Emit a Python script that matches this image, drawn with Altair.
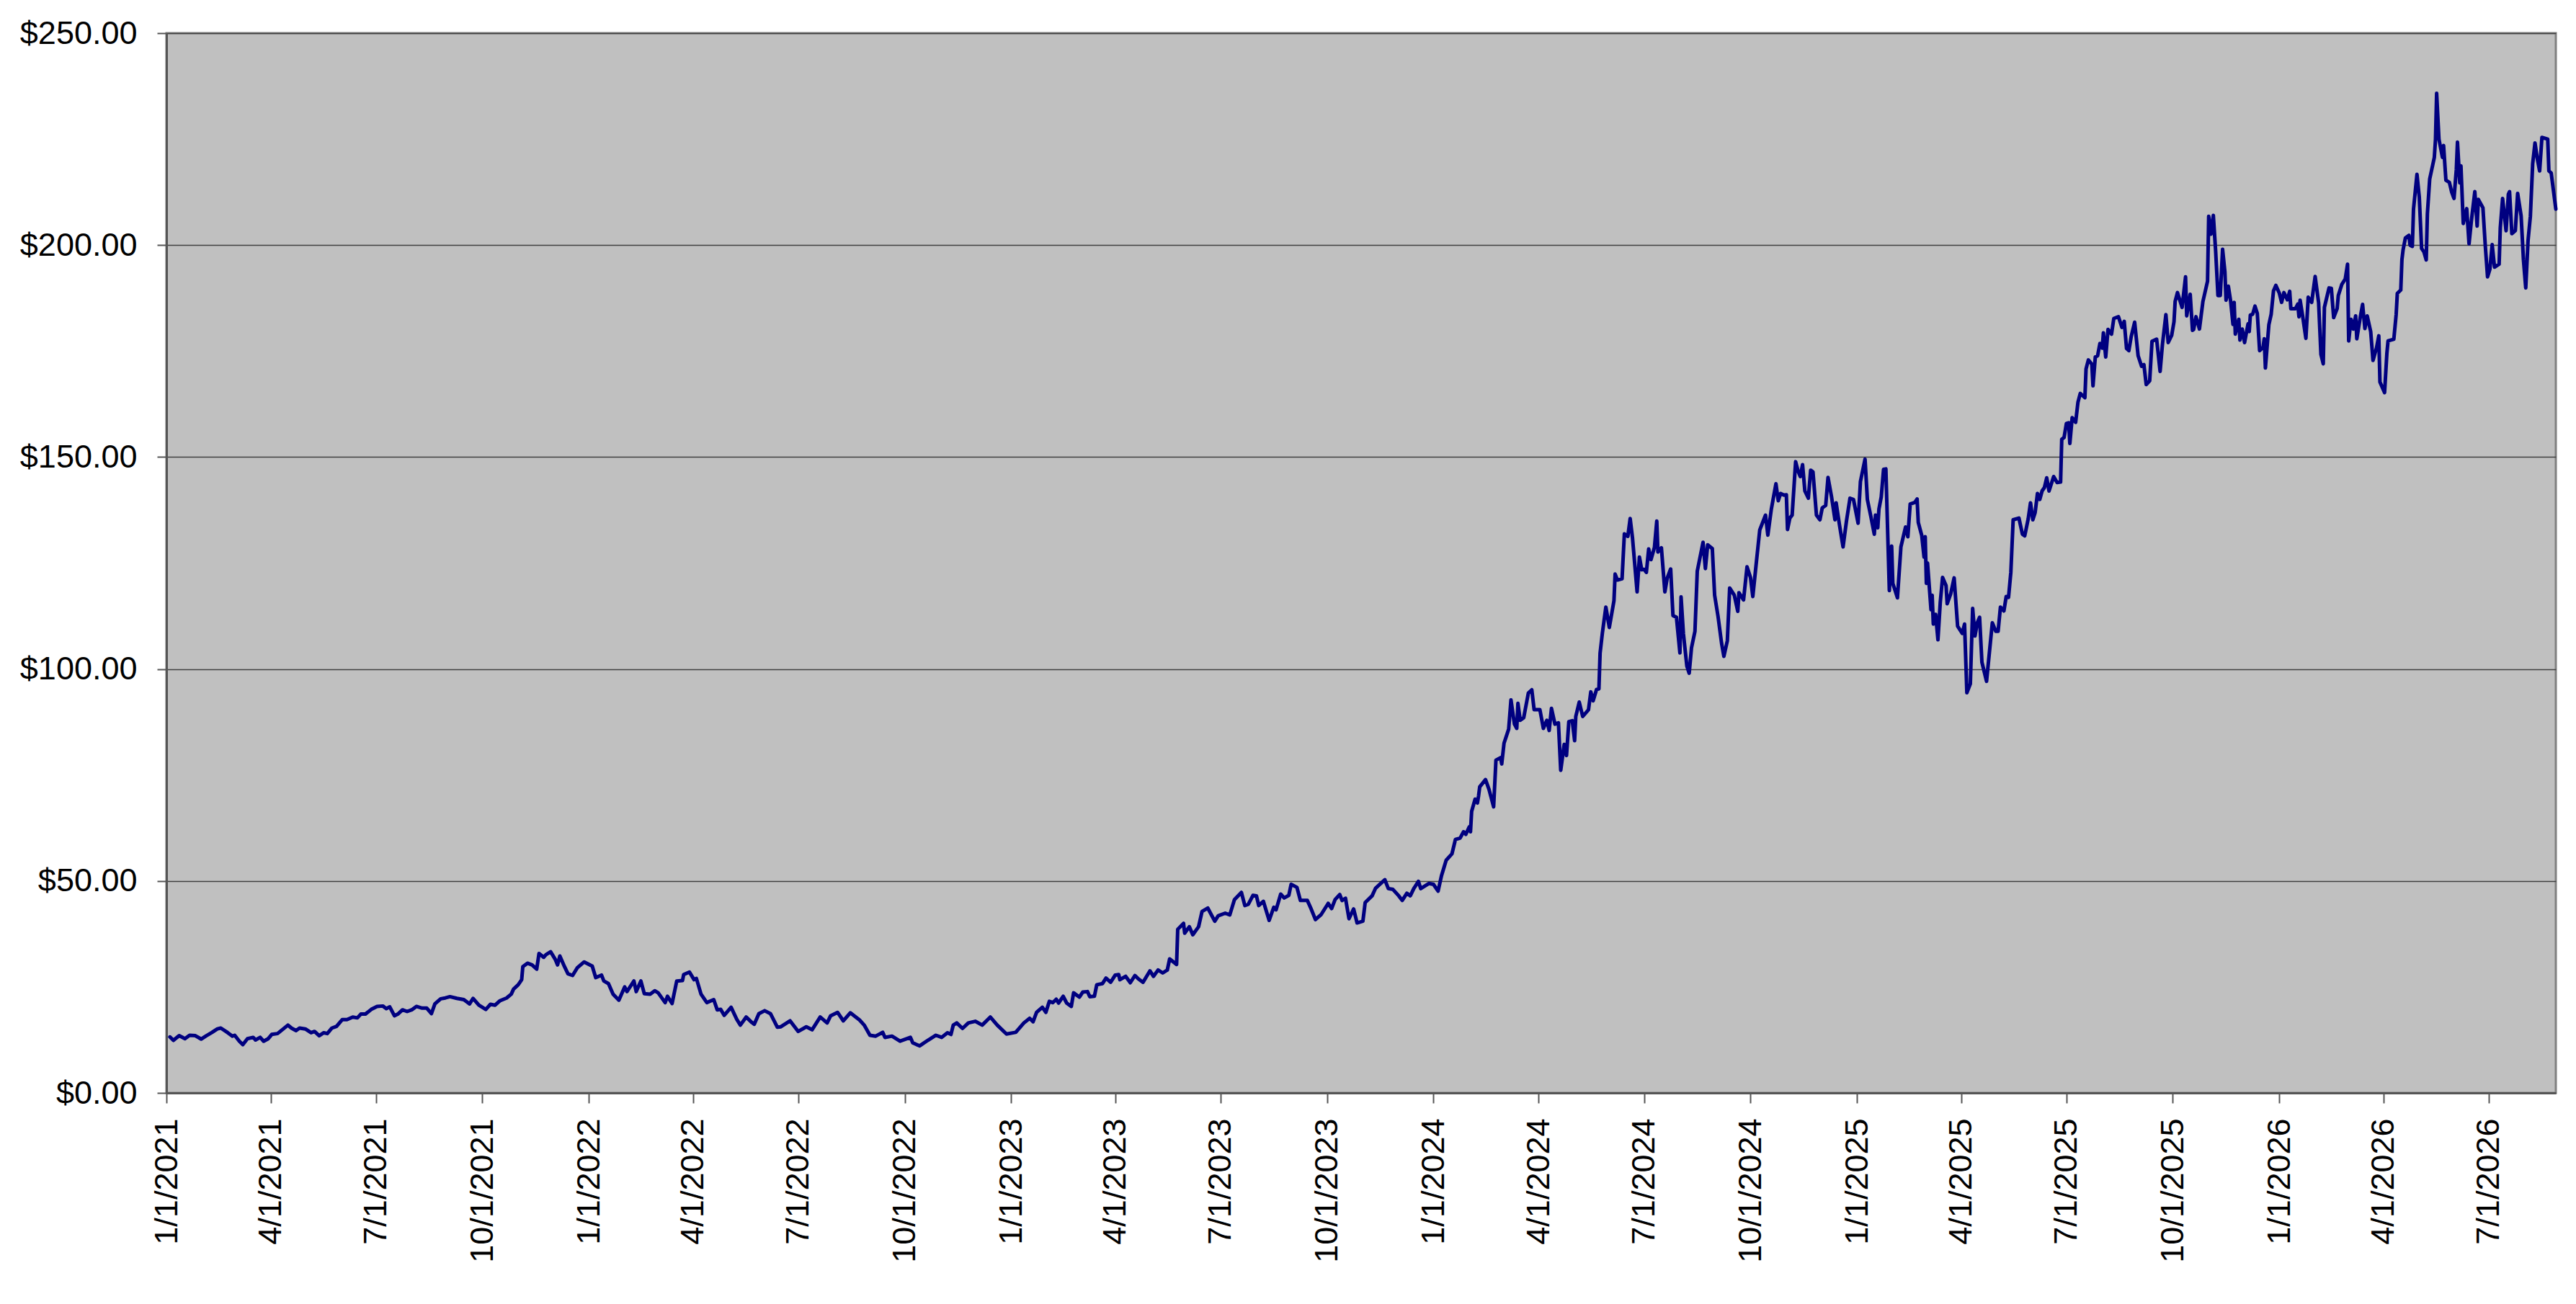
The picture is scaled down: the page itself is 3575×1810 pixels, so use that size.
import altair as alt
import pandas as pd

# ---- price readings (month-day, closing price) per year ----
points_2021 = [
    ("01-04", 13.2), ("01-07", 12.4), ("01-12", 13.5), ("01-17", 12.8), ("01-21", 13.6),
    ("01-26", 13.5), ("01-31", 12.7), ("02-04", 13.4), ("02-09", 14.2), ("02-14", 15.1),
    ("02-17", 15.3), ("02-23", 14.2), ("02-27", 13.4), ("03-01", 13.6), ("03-05", 12.2),
    ("03-08", 11.4), ("03-12", 12.8), ("03-17", 13.1), ("03-19", 12.5), ("03-23", 13.1),
    ("03-26", 12.2), ("03-30", 12.8), ("04-02", 13.8), ("04-07", 14.0), ("04-12", 15.1),
    ("04-16", 16.0), ("04-19", 15.3), ("04-23", 14.7), ("04-26", 15.3), ("05-01", 15.1),
    ("05-06", 14.2), ("05-09", 14.5), ("05-13", 13.5), ("05-17", 14.2), ("05-20", 14.0),
    ("05-24", 15.3), ("05-28", 15.7), ("06-02", 17.3), ("06-06", 17.3), ("06-11", 17.9),
    ("06-15", 17.7), ("06-18", 18.6), ("06-22", 18.6), ("06-27", 19.7), ("07-02", 20.4),
    ("07-07", 20.5), ("07-10", 19.9), ("07-13", 20.3), ("07-17", 18.2), ("07-20", 18.6),
    ("07-24", 19.6), ("07-28", 19.2), ("08-01", 19.6), ("08-05", 20.4), ("08-10", 20.0),
    ("08-14", 20.0), ("08-18", 18.7), ("08-21", 21.0), ("08-26", 22.2), ("08-30", 22.4),
    ("09-03", 22.7), ("09-09", 22.3), ("09-15", 22.0), ("09-20", 21.0), ("09-23", 22.3),
    ("09-28", 20.7), ("10-04", 19.7), ("10-08", 20.9), ("10-12", 20.7), ("10-16", 21.7),
    ("10-22", 22.4), ("10-26", 23.3), ("10-28", 24.5), ("11-01", 25.5), ("11-04", 26.7),
    ("11-05", 29.8), ("11-09", 30.6), ("11-13", 30.2), ("11-17", 29.2), ("11-19", 32.9),
    ("11-23", 32.0), ("11-25", 32.6), ("11-29", 33.3), ("12-03", 31.5), ("12-05", 30.2),
    ("12-07", 32.3), ("12-11", 29.8), ("12-14", 28.1), ("12-18", 27.7), ("12-22", 29.5),
    ("12-28", 30.9),
]

points_2022 = [
    ("01-04", 29.9), ("01-07", 27.2), ("01-12", 27.8), ("01-14", 26.4), ("01-18", 25.8),
    ("01-22", 23.3), ("01-27", 21.9), ("02-01", 25.0), ("02-03", 23.9), ("02-09", 26.4),
    ("02-11", 23.9), ("02-15", 26.4), ("02-18", 23.4), ("02-23", 23.3), ("02-27", 24.1),
    ("03-02", 23.6), ("03-08", 21.3), ("03-10", 22.8), ("03-14", 21.1), ("03-18", 26.4),
    ("03-23", 26.5), ("03-24", 27.9), ("03-29", 28.5), ("04-02", 26.7), ("04-04", 27.0),
    ("04-08", 23.3), ("04-13", 21.3), ("04-19", 22.0), ("04-22", 19.6), ("04-25", 19.7),
    ("04-28", 18.3), ("05-04", 20.2), ("05-09", 17.3), ("05-12", 16.0), ("05-17", 17.9),
    ("05-22", 16.6), ("05-24", 16.2), ("05-28", 18.7), ("06-02", 19.4), ("06-07", 18.7),
    ("06-13", 15.5), ("06-16", 15.6), ("06-24", 17.0), ("07-01", 14.5), ("07-08", 15.6),
    ("07-13", 14.9), ("07-20", 17.9), ("07-26", 16.5), ("07-29", 18.2), ("08-04", 19.0),
    ("08-09", 17.0), ("08-15", 18.9), ("08-23", 17.2), ("08-27", 16.0), ("09-01", 13.6),
    ("09-06", 13.4), ("09-12", 14.3), ("09-14", 13.1), ("09-20", 13.4), ("09-27", 12.2),
    ("10-06", 13.1), ("10-08", 11.8), ("10-14", 11.1), ("10-21", 12.4), ("10-28", 13.6),
    ("11-02", 13.1), ("11-07", 14.2), ("11-10", 13.8), ("11-12", 16.0), ("11-15", 16.5),
    ("11-20", 15.2), ("11-25", 16.5), ("12-01", 16.9), ("12-07", 16.0), ("12-14", 17.9),
    ("12-20", 16.0), ("12-28", 13.9),
]

points_2023 = [
    ("01-05", 14.3), ("01-12", 16.5), ("01-17", 17.6), ("01-20", 16.8), ("01-23", 19.0),
    ("01-28", 20.2), ("01-31", 19.0), ("02-03", 21.6), ("02-06", 21.3), ("02-09", 22.1),
    ("02-11", 21.2), ("02-15", 22.8), ("02-18", 21.2), ("02-22", 20.4), ("02-24", 23.6),
    ("03-01", 22.6), ("03-04", 23.8), ("03-08", 23.9), ("03-10", 22.7), ("03-14", 22.8),
    ("03-16", 25.5), ("03-21", 25.8), ("03-24", 27.1), ("03-28", 26.1), ("04-01", 27.8),
    ("04-04", 27.9), ("04-05", 26.7), ("04-10", 27.5), ("04-14", 26.0), ("04-18", 27.7),
    ("04-21", 26.9), ("04-25", 26.1), ("05-01", 28.8), ("05-04", 27.5), ("05-08", 29.0),
    ("05-12", 28.3), ("05-16", 29.0), ("05-18", 31.6), ("05-24", 30.3), ("05-25", 38.6),
    ("05-30", 40.0), ("05-31", 37.7), ("06-04", 39.2), ("06-07", 37.3), ("06-12", 39.2),
    ("06-15", 42.8), ("06-20", 43.6), ("06-26", 40.5), ("06-29", 41.8), ("07-05", 42.4),
    ("07-09", 42.0), ("07-13", 45.6), ("07-19", 47.3), ("07-22", 44.2), ("07-25", 44.5),
    ("07-29", 46.6), ("08-01", 46.5), ("08-03", 44.2), ("08-07", 45.2), ("08-12", 40.7),
    ("08-16", 43.8), ("08-18", 43.2), ("08-22", 46.9), ("08-25", 46.0), ("08-29", 46.6),
    ("08-31", 49.2), ("09-05", 48.5), ("09-08", 45.4), ("09-14", 45.4), ("09-17", 43.6),
    ("09-21", 40.9), ("09-26", 42.1), ("10-02", 44.7), ("10-05", 43.5), ("10-08", 45.6),
    ("10-12", 46.8), ("10-14", 45.4), ("10-17", 45.9), ("10-20", 41.1), ("10-24", 43.4),
    ("10-27", 40.1), ("11-01", 40.5), ("11-03", 44.9), ("11-09", 46.5), ("11-12", 48.3),
    ("11-16", 49.3), ("11-20", 50.3), ("11-23", 48.2), ("11-27", 48.0), ("12-02", 46.5),
    ("12-05", 45.4), ("12-09", 47.1), ("12-12", 46.5), ("12-15", 48.2), ("12-19", 49.9),
    ("12-21", 48.2), ("12-28", 49.4),
]

points_2024 = [
    ("01-01", 49.2), ("01-05", 47.6), ("01-08", 51.3), ("01-12", 54.9), ("01-17", 56.4),
    ("01-20", 59.8), ("01-24", 60.1), ("01-27", 61.6), ("01-29", 61.0), ("02-01", 62.8),
    ("02-02", 61.6), ("02-03", 66.4), ("02-06", 69.3), ("02-08", 68.4), ("02-09", 70.1),
    ("02-10", 72.2), ("02-15", 73.9), ("02-18", 71.6), ("02-22", 67.5), ("02-24", 78.5),
    ("02-28", 79.1), ("02-29", 77.6), ("03-02", 82.5), ("03-06", 85.8), ("03-08", 92.7),
    ("03-11", 87.0), ("03-13", 86.0), ("03-14", 91.9), ("03-16", 87.9), ("03-19", 88.5),
    ("03-23", 94.3), ("03-26", 95.1), ("03-28", 90.4), ("04-02", 90.4), ("04-05", 86.0),
    ("04-08", 87.9), ("04-10", 85.5), ("04-12", 90.7), ("04-15", 87.0), ("04-18", 87.3),
    ("04-20", 76.1), ("04-23", 82.2), ("04-25", 79.6), ("04-27", 87.6), ("04-30", 87.8),
    ("05-02", 83.1), ("05-03", 88.8), ("05-06", 92.2), ("05-09", 88.8), ("05-14", 90.4),
    ("05-16", 94.6), ("05-18", 92.5), ("05-21", 95.2), ("05-23", 95.3), ("05-24", 103.7),
    ("05-26", 108.5), ("05-29", 114.6), ("06-01", 109.8), ("06-05", 116.1), ("06-06", 122.4),
    ("06-08", 121.0), ("06-12", 121.3), ("06-14", 131.9), ("06-17", 131.3), ("06-19", 135.5),
    ("06-21", 131.0), ("06-25", 118.2), ("06-27", 126.4), ("06-29", 123.4), ("07-01", 123.5),
    ("07-03", 122.8), ("07-05", 128.3), ("07-07", 125.8), ("07-10", 128.7), ("07-12", 134.9),
    ("07-13", 127.6), ("07-16", 128.6), ("07-19", 118.2), ("07-21", 121.4), ("07-24", 123.6),
    ("07-26", 112.6), ("07-29", 112.2), ("08-01", 103.8), ("08-02", 117.0), ("08-04", 108.4),
    ("08-07", 100.7), ("08-09", 99.0), ("08-11", 105.0), ("08-14", 108.9), ("08-16", 123.1),
    ("08-21", 129.9), ("08-23", 123.7), ("08-25", 129.3), ("08-29", 128.4), ("08-31", 117.4),
    ("09-03", 112.3), ("09-06", 106.1), ("09-08", 103.0), ("09-11", 106.7), ("09-13", 119.1),
    ("09-17", 117.4), ("09-20", 113.6), ("09-21", 118.0), ("09-25", 116.3), ("09-28", 124.1),
    ("10-01", 121.6), ("10-03", 117.1), ("10-06", 125.0), ("10-09", 132.8), ("10-12", 134.9),
    ("10-14", 136.3), ("10-16", 131.6), ("10-19", 137.7), ("10-23", 143.7), ("10-25", 139.7),
    ("10-27", 141.4), ("10-30", 141.0), ("11-01", 141.1), ("11-02", 132.9), ("11-04", 135.6),
    ("11-06", 136.3), ("11-09", 148.9), ("11-11", 146.8), ("11-13", 145.4), ("11-15", 148.2),
    ("11-17", 142.0), ("11-20", 140.3), ("11-22", 146.9), ("11-24", 146.5), ("11-27", 136.3),
    ("11-30", 135.2), ("12-02", 138.0), ("12-05", 138.6), ("12-07", 145.2), ("12-10", 140.7),
    ("12-13", 135.2), ("12-14", 139.2), ("12-17", 133.8), ("12-20", 128.8), ("12-23", 135.0),
    ("12-26", 140.3), ("12-29", 140.0),
]

points_2025 = [
    ("01-02", 134.4), ("01-04", 144.2), ("01-08", 149.5), ("01-10", 140.0), ("01-13", 136.0),
    ("01-16", 131.8), ("01-17", 136.3), ("01-19", 133.3), ("01-20", 137.7), ("01-22", 140.6),
    ("01-24", 147.1), ("01-26", 147.2), ("01-29", 118.5), ("01-31", 129.0), ("02-01", 120.2),
    ("02-05", 116.8), ("02-08", 128.8), ("02-12", 133.5), ("02-14", 131.2), ("02-16", 138.9),
    ("02-20", 139.3), ("02-22", 140.1), ("02-23", 134.6), ("02-26", 131.5), ("02-28", 126.4),
    ("03-01", 131.2), ("03-02", 120.2), ("03-03", 125.0), ("03-06", 114.0), ("03-07", 117.4),
    ("03-08", 110.6), ("03-10", 112.9), ("03-12", 106.9), ("03-14", 115.7), ("03-16", 121.6),
    ("03-19", 119.7), ("03-20", 115.4), ("03-23", 117.7), ("03-26", 121.5), ("03-29", 110.1),
    ("04-02", 108.4), ("04-04", 110.6), ("04-06", 94.4), ("04-09", 96.5), ("04-11", 114.3),
    ("04-13", 107.8), ("04-15", 110.9), ("04-17", 112.2), ("04-19", 101.6), ("04-23", 97.1),
    ("04-28", 110.9), ("05-01", 108.9), ("05-03", 108.9), ("05-05", 114.6), ("05-08", 113.7),
    ("05-10", 117.1), ("05-12", 116.9), ("05-14", 122.8), ("05-16", 135.2), ("05-21", 135.6),
    ("05-24", 131.8), ("05-26", 131.4), ("05-29", 135.4), ("05-31", 139.2), ("06-02", 135.2),
    ("06-04", 136.9), ("06-06", 141.4), ("06-08", 140.0), ("06-10", 142.0), ("06-12", 142.8),
    ("06-14", 145.1), ("06-16", 142.0), ("06-20", 145.4), ("06-23", 144.0), ("06-26", 144.1),
    ("06-27", 154.2), ("06-29", 154.6), ("07-01", 157.9), ("07-03", 158.1), ("07-04", 153.2),
    ("07-06", 159.3), ("07-09", 158.2), ("07-11", 162.9), ("07-13", 165.0), ("07-17", 164.0),
    ("07-18", 170.8), ("07-20", 172.9), ("07-23", 171.9), ("07-24", 166.8), ("07-26", 173.6),
    ("07-28", 173.9), ("07-30", 176.8), ("08-01", 175.7), ("08-02", 179.3), ("08-04", 173.6),
    ("08-06", 180.1), ("08-09", 179.0), ("08-11", 182.7), ("08-15", 183.1), ("08-18", 180.6),
    ("08-20", 182.0), ("08-22", 175.6), ("08-24", 175.1), ("08-26", 178.4), ("08-29", 181.8),
    ("09-01", 173.9), ("09-04", 171.4), ("09-06", 171.8), ("09-08", 167.1), ("09-11", 168.0),
    ("09-13", 177.3), ("09-17", 177.8), ("09-20", 170.2), ("09-22", 176.5), ("09-25", 183.6),
    ("09-27", 177.0), ("09-30", 178.7), ("10-02", 181.9), ("10-03", 186.7), ("10-05", 188.8),
    ("10-09", 185.3), ("10-12", 192.5), ("10-13", 183.3), ("10-16", 188.4), ("10-18", 179.9),
    ("10-19", 180.1), ("10-21", 183.1), ("10-24", 180.2), ("10-27", 186.7), ("10-31", 191.5),
    ("11-01", 206.8), ("11-03", 202.6), ("11-05", 207.0), ("11-07", 198.6), ("11-09", 188.1),
    ("11-11", 188.1), ("11-13", 199.0), ("11-15", 193.7), ("11-16", 187.0), ("11-18", 190.3),
    ("11-20", 186.7), ("11-22", 181.3), ("11-23", 186.5), ("11-24", 179.0), ("11-27", 182.5),
    ("11-28", 177.6), ("11-30", 180.2), ("12-02", 177.0), ("12-05", 181.4), ("12-06", 179.6),
    ("12-07", 183.5), ("12-09", 183.7), ("12-11", 185.6), ("12-13", 183.9), ("12-15", 175.1),
    ("12-18", 175.9), ("12-19", 177.9), ("12-20", 171.0), ("12-23", 181.2), ("12-25", 183.7),
    ("12-27", 189.2), ("12-29", 190.5),
]

points_2026 = [
    ("01-01", 188.7), ("01-03", 186.5), ("01-05", 188.8), ("01-08", 187.1), ("01-10", 189.1),
    ("01-11", 185.0), ("01-15", 185.0), ("01-17", 186.1), ("01-18", 183.1), ("01-19", 187.0),
    ("01-21", 183.6), ("01-24", 178.0), ("01-26", 187.7), ("01-29", 186.5), ("02-01", 192.6),
    ("02-04", 186.4), ("02-06", 174.2), ("02-08", 172.0), ("02-09", 185.3), ("02-13", 189.9),
    ("02-15", 189.8), ("02-17", 182.9), ("02-20", 185.0), ("02-21", 188.1), ("02-24", 190.7),
    ("02-27", 192.0), ("03-01", 195.5), ("03-02", 177.4), ("03-04", 182.5), ("03-06", 180.2),
    ("03-08", 183.3), ("03-09", 177.9), ("03-12", 183.0), ("03-14", 186.0), ("03-16", 180.3),
    ("03-18", 183.3), ("03-21", 179.6), ("03-23", 172.8), ("03-26", 175.7), ("03-28", 178.6),
    ("03-29", 167.7), ("04-02", 165.2), ("04-04", 174.5), ("04-05", 177.4), ("04-10", 177.8),
    ("04-12", 183.6), ("04-13", 188.6), ("04-16", 189.4), ("04-17", 196.6), ("04-18", 198.9),
    ("04-20", 201.7), ("04-23", 202.3), ("04-24", 200.0), ("04-26", 199.7), ("04-27", 208.5),
    ("04-30", 216.7), ("05-02", 211.3), ("05-04", 199.2), ("05-06", 198.4), ("05-08", 196.5),
    ("05-09", 207.4), ("05-11", 215.6), ("05-15", 220.7), ("05-16", 224.9), ("05-17", 235.8),
    ("05-19", 225.0), ("05-22", 220.7), ("05-23", 223.5), ("05-25", 215.3), ("05-28", 214.8),
    ("05-30", 212.5), ("06-01", 211.0), ("06-03", 217.8), ("06-04", 224.3), ("06-06", 214.7),
    ("06-07", 218.7), ("06-09", 205.1), ("06-12", 208.6), ("06-14", 200.3), ("06-16", 205.7),
    ("06-19", 212.6), ("06-21", 204.5), ("06-22", 210.8), ("06-26", 208.8), ("06-28", 200.0),
    ("06-30", 192.5), ("07-02", 194.3), ("07-04", 200.1), ("07-06", 194.8), ("07-10", 195.5),
    ("07-11", 204.1), ("07-13", 211.0), ("07-16", 203.4), ("07-18", 212.0), ("07-19", 212.6),
    ("07-21", 202.7), ("07-24", 203.4), ("07-26", 212.2), ("07-29", 206.9), ("07-31", 196.6),
    ("08-02", 189.9), ("08-04", 201.1), ("08-06", 206.8), ("08-08", 219.2), ("08-10", 224.1),
    ("08-12", 220.4), ("08-14", 217.5), ("08-16", 225.4), ("08-21", 225.0), ("08-22", 217.5),
    ("08-24", 217.0), ("08-28", 208.5),
]

# axis tick dates (quarterly labels) and price gridlines
tick_dates = [
    "2021-01-01", "2021-04-01", "2021-07-01", "2021-10-01",
    "2022-01-01", "2022-04-01", "2022-07-01", "2022-10-01",
    "2023-01-01", "2023-04-01", "2023-07-01", "2023-10-01",
    "2024-01-01", "2024-04-01", "2024-07-01", "2024-10-01",
    "2025-01-01", "2025-04-01", "2025-07-01", "2025-10-01",
    "2026-01-01", "2026-04-01", "2026-07-01",
]
price_ticks = [0, 50, 100, 150, 200, 250]
axis_start = "2021-01-01"
axis_end = "2026-08-28"

years = [
    (2021, points_2021), (2022, points_2022), (2023, points_2023),
    (2024, points_2024), (2025, points_2025), (2026, points_2026),
]
rows = []
for yr, pts in years:
    for md, v in pts:
        rows.append({"date": f"{yr}-{md}", "price": v})
df = pd.DataFrame(rows)


def ms(s):
    return int(pd.Timestamp(s, tz="UTC").value // 10**6)


tick_ms = [ms(d) for d in tick_dates]

chart = (
    alt.Chart(df)
    .mark_line(color="#000080", strokeWidth=5, strokeJoin="round", strokeCap="round")
    .encode(
        x=alt.X(
            "date:T",
            scale=alt.Scale(type="utc", domain=[ms(axis_start), ms(axis_end)], nice=False),
            axis=alt.Axis(
                values=tick_ms,
                format="%-m/%-d/%Y",
                labelAngle=270,
                title=None,
                grid=False,
                tickSize=14,
                labelPadding=21,
                labelOverlap=False,
                labelBound=False,
                labelFlush=False,
                labelLimit=0,
            ),
        ),
        y=alt.Y(
            "price:Q",
            scale=alt.Scale(domain=[0, 250], nice=False, zero=True),
            axis=alt.Axis(
                values=price_ticks,
                format="$.2f",
                title=None,
                grid=True,
                tickSize=13,
                labelPadding=28,
                labelLimit=0,
            ),
        ),
    )
    .properties(
        width=3316,
        height=1471,
        autosize=alt.AutoSizeParams(type="none"),
        padding={"left": 223, "top": 38, "right": 12, "bottom": 260},
        background="white",
    )
    .configure_view(fill="#C0C0C0", stroke="#808080", strokeWidth=3)
    .configure_axis(
        labelFont="Liberation Sans",
        labelFontSize=45,
        labelColor="black",
        domainColor="#555555",
        domainWidth=3,
        tickColor="#555555",
        tickWidth=2,
        gridColor="#404040",
        gridWidth=1.5,
    )
)

chart.save("out.html", embed_options={"renderer": "svg", "actions": False})
